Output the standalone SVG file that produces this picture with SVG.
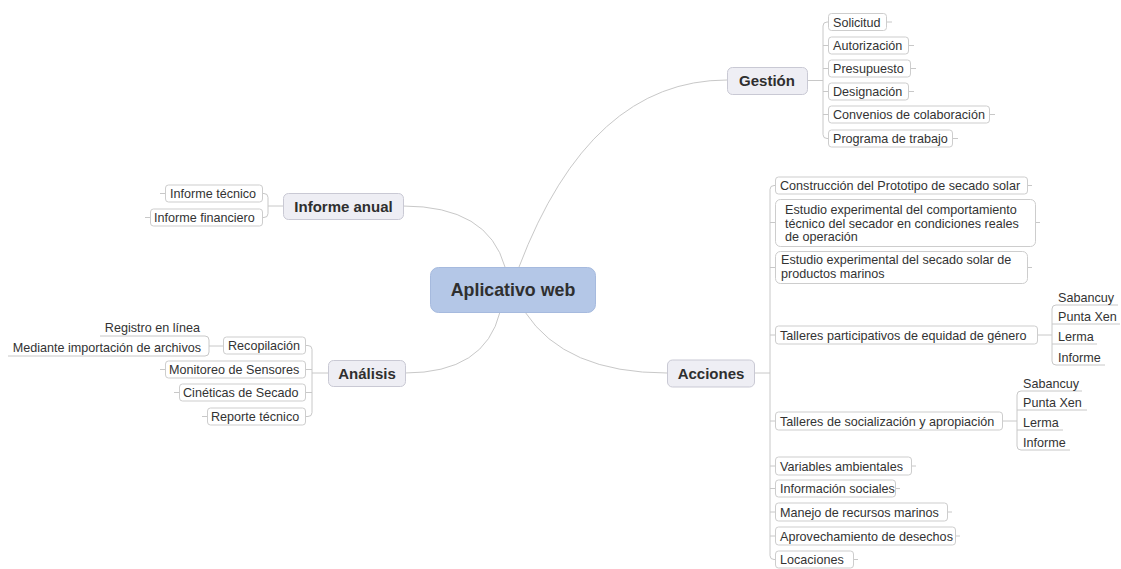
<svg xmlns="http://www.w3.org/2000/svg" width="1121" height="569" viewBox="0 0 1121 569">
<style>
text{font-family:"Liberation Sans",Arial,sans-serif;fill:#333;font-size:12.6px}
.c{fill:none;stroke:#c8c8c8;stroke-width:1}
.leaf{fill:#fff;stroke:#cdcdcd;stroke-width:1}
.main{fill:#eeeef4;stroke:#c9c9d4;stroke-width:1}
.mt{font-size:15px;font-weight:bold;text-anchor:middle;fill:#2f2f2f}
.e{text-anchor:end}
</style>
<rect width="1121" height="569" fill="#fff"/>
<g id="connectors">
<path class="c" d="M519,267 Q590,80 727,80"/>
<path class="c" d="M505,267 Q488,206 403,206"/>
<path class="c" d="M500,312 Q485,373 405,373"/>
<path class="c" d="M525,312 Q565,373 667,373"/>
<path class="c" d="M807,80.5 H823 M828,22 H827 Q823,22 823,26 V134.5 Q823,138.5 827,138.5 H828 M823,45.5 H828 M823,68.5 H828 M823,91.5 H828 M823,114.5 H828"/>
<path class="c" d="M887,22 H892 M909,45.5 H914 M911,68.5 H916 M909,91.5 H914 M990,114.5 H995 M953,138.5 H958"/>
<path class="c" d="M283,206 H268 M263,193.5 H264 Q268,193.5 268,197.5 V213.5 Q268,217.5 264,217.5 H263"/>
<path class="c" d="M165,193.5 H160 M150,217.5 H145"/>
<path class="c" d="M328,373 H312 M306,345.5 H308 Q312,345.5 312,349.5 V412.5 Q312,416.5 308,416.5 H306 M312,369.5 H306 M312,392.5 H306"/>
<path class="c" d="M165,369.5 H160 M179,392.5 H174 M207,416.5 H202"/>
<path class="c" d="M223,346 H209 M100,336 H205 Q209,336 209,340 V352 Q209,356 205,356 H8"/>
<path class="c" d="M754,373 H770 M775,185.5 H774 Q770,185.5 770,189.5 V555.5 Q770,559.5 774,559.5 H775 M770,222.5 H775 M770,267.5 H775 M770,335 H775 M770,421 H775 M770,466 H775 M770,488.5 H775 M770,512 H775 M770,536 H775"/>
<path class="c" d="M1027,185.5 H1032 M1035,222.5 H1040 M1027,267.5 H1032 M911,466 H916 M895,488.5 H900 M947,512 H952 M955,536 H960 M853,559.5 H858"/>
<path class="c" d="M1037,335 H1052 M1118,305 H1056 Q1052,305 1052,309 V361 Q1052,365 1056,365 H1105 M1052,324 H1120 M1052,344 H1097"/>
<path class="c" d="M1002,421 H1017 M1082,391 H1021 Q1017,391 1017,395 V446 Q1017,450 1021,450 H1070 M1017,410 H1087 M1017,430 H1063"/>
</g>
<g id="central">
<rect x="430.5" y="267.5" width="165" height="45" rx="8" fill="#b4c7e7" stroke="#a6bade"/>
<text x="513" y="296" style="font-size:17.8px;font-weight:bold;text-anchor:middle;fill:#2f2f2f">Aplicativo web</text>
</g>
<g id="gestion">
<rect class="main" x="727.5" y="67.5" width="80" height="27" rx="5"/>
<text class="mt" x="767" y="86">Gestión</text>
</g>
<g id="g-solicitud"><rect class="leaf" x="828.5" y="13.5" width="58" height="17" rx="3"/><text x="833" y="26.5">Solicitud</text></g>
<g id="g-autorizacion"><rect class="leaf" x="828.5" y="37" width="80" height="17" rx="3"/><text x="833" y="50">Autorización</text></g>
<g id="g-presupuesto"><rect class="leaf" x="828.5" y="60" width="82" height="17" rx="3"/><text x="833" y="73">Presupuesto</text></g>
<g id="g-designacion"><rect class="leaf" x="828.5" y="83" width="80" height="17" rx="3"/><text x="833" y="96">Designación</text></g>
<g id="g-convenios"><rect class="leaf" x="828.5" y="106" width="161" height="17" rx="3"/><text x="833" y="119">Convenios de colaboración</text></g>
<g id="g-programa"><rect class="leaf" x="828.5" y="130" width="124" height="17" rx="3"/><text x="833" y="143">Programa de trabajo</text></g>

<g id="informe-anual">
<rect class="main" x="283.5" y="193.5" width="120" height="26" rx="5"/>
<text class="mt" x="343.5" y="212">Informe anual</text>
</g>
<g id="ia-tecnico"><rect class="leaf" x="165.5" y="185" width="97" height="17" rx="3"/><text x="170" y="198">Informe técnico</text></g>
<g id="ia-financiero"><rect class="leaf" x="150.5" y="209" width="112" height="17" rx="3"/><text x="154" y="222">Informe financiero</text></g>

<g id="analisis">
<rect class="main" x="328.5" y="360.5" width="77" height="26" rx="5"/>
<text class="mt" x="367" y="379">Análisis</text>
</g>
<g id="an-recopilacion"><rect class="leaf" x="223.5" y="337" width="82" height="17" rx="3"/><text x="228" y="350">Recopilación</text></g>
<g id="an-monitoreo"><rect class="leaf" x="165.5" y="361" width="140" height="17" rx="3"/><text x="169" y="374">Monitoreo de Sensores</text></g>
<g id="an-cineticas"><rect class="leaf" x="179.5" y="384" width="126" height="17" rx="3"/><text x="183" y="397">Cinéticas de Secado</text></g>
<g id="an-reporte"><rect class="leaf" x="207.5" y="408" width="98" height="17" rx="3"/><text x="211" y="421">Reporte técnico</text></g>
<g id="rc-registro"><text class="e" x="200" y="331.5">Registro en línea</text></g>
<g id="rc-mediante"><text class="e" x="201" y="351.5">Mediante importación de archivos</text></g>

<g id="acciones">
<rect class="main" x="667.5" y="360" width="87" height="27" rx="5"/>
<text class="mt" x="711" y="379">Acciones</text>
</g>
<g id="ac-construccion"><rect class="leaf" x="775.5" y="177" width="252" height="17" rx="3"/><text x="780" y="190">Construcción del Prototipo de secado solar</text></g>
<g id="ac-estudio1"><rect class="leaf" x="775.5" y="199.5" width="260" height="47" rx="5"/>
<text x="785" y="214">Estudio experimental del comportamiento</text>
<text x="785" y="227.5">técnico del secador en condiciones reales</text>
<text x="785" y="241">de operación</text></g>
<g id="ac-estudio2"><rect class="leaf" x="775.5" y="251.5" width="252" height="32" rx="5"/>
<text x="781" y="264">Estudio experimental del secado solar de</text>
<text x="781" y="277.5">productos marinos</text></g>
<g id="ac-talleres-genero"><rect class="leaf" x="775.5" y="326" width="262" height="18" rx="3"/><text x="780" y="339.5">Talleres participativos de equidad de género</text></g>
<g id="tg-sabancuy"><text x="1058" y="301.5">Sabancuy</text></g>
<g id="tg-puntaxen"><text x="1058" y="321">Punta Xen</text></g>
<g id="tg-lerma"><text x="1058" y="341">Lerma</text></g>
<g id="tg-informe"><text x="1058" y="361.5">Informe</text></g>
<g id="ac-talleres-social"><rect class="leaf" x="775.5" y="412" width="227" height="18" rx="3"/><text x="780" y="425.5">Talleres de socialización y apropiación</text></g>
<g id="ts-sabancuy"><text x="1023" y="387.5">Sabancuy</text></g>
<g id="ts-puntaxen"><text x="1023" y="407">Punta Xen</text></g>
<g id="ts-lerma"><text x="1023" y="427">Lerma</text></g>
<g id="ts-informe"><text x="1023" y="447">Informe</text></g>
<g id="ac-variables"><rect class="leaf" x="775.5" y="457" width="136" height="18" rx="3"/><text x="780" y="470.5">Variables ambientales</text></g>
<g id="ac-informacion"><rect class="leaf" x="775.5" y="480" width="120" height="17" rx="3"/><text x="780" y="493">Información sociales</text></g>
<g id="ac-manejo"><rect class="leaf" x="775.5" y="503" width="172" height="18" rx="3"/><text x="780" y="516.5">Manejo de recursos marinos</text></g>
<g id="ac-aprovechamiento"><rect class="leaf" x="775.5" y="527" width="180" height="18" rx="3"/><text x="780" y="540.5">Aprovechamiento de desechos</text></g>
<g id="ac-locaciones"><rect class="leaf" x="775.5" y="551" width="78" height="17" rx="3"/><text x="780" y="564">Locaciones</text></g>
</svg>
